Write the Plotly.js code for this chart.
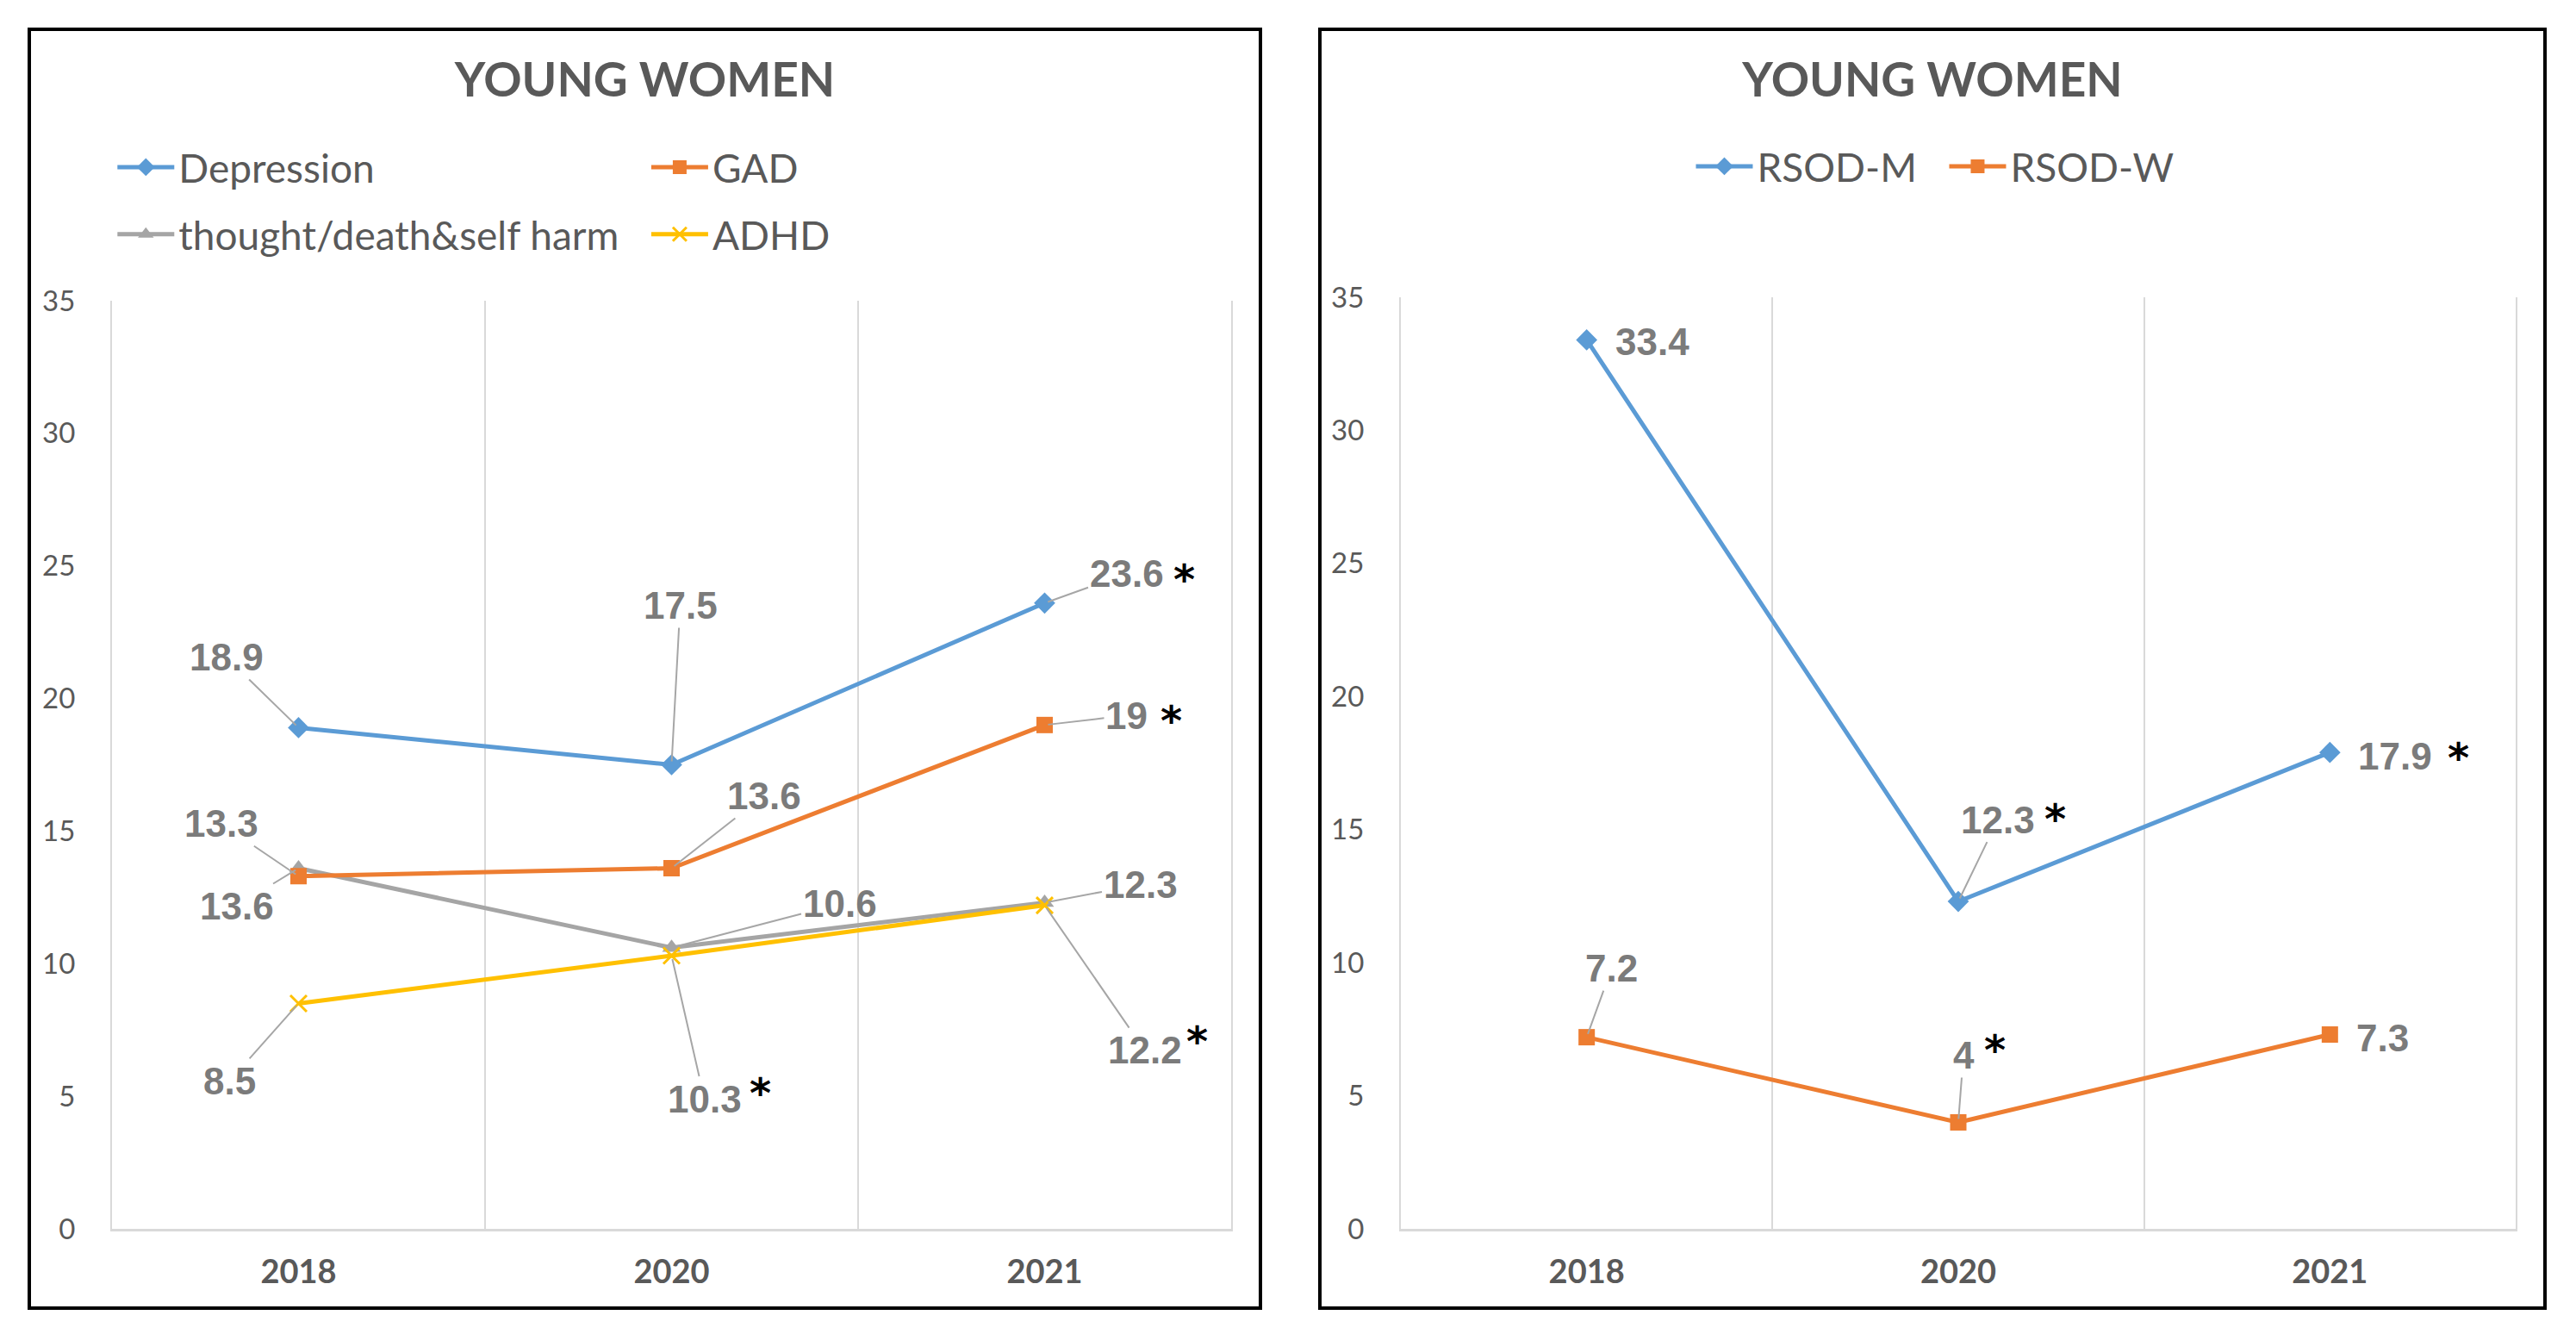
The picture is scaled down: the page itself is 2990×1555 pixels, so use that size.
<!DOCTYPE html>
<html>
<head>
<meta charset="utf-8">
<script src="https://cdn.plot.ly/plotly-3.0.1.min.js"></script>
<style>
  html, body { margin: 0; padding: 0; background: #ffffff; }
  body { width: 2990px; height: 1555px; position: relative; overflow: hidden; }
  .panel { position: absolute; box-sizing: border-box; border: 4px solid #000; background: #fff; }
  #p1 { left: 32px; top: 32px; width: 1433px; height: 1488px; }
  #p2 { left: 1530px; top: 32px; width: 1426px; height: 1488px; }
</style>
</head>
<body>
<div class="panel" id="p1"><div id="chart1"></div></div>
<div class="panel" id="p2"><div id="chart2"></div></div>
<script>
// ---------- data ----------
const years = ['2018', '2020', '2021'];
const chartTitle = 'YOUNG WOMEN';

const depression = [18.9, 17.5, 23.6];
const gad        = [13.3, 13.6, 19];
const thought    = [13.6, 10.6, 12.3];
const adhd       = [8.5, 10.3, 12.2];

const rsodM = [33.4, 12.3, 17.9];
const rsodW = [7.2, 4, 7.3];

// significance markers (*)
const sigDepression = [false, false, true];
const sigGad        = [false, false, true];
const sigThought    = [false, false, false];
const sigAdhd       = [false, true, true];
const sigRsodM      = [false, true, true];
const sigRsodW      = [false, true, false];

const yTicks = [0, 5, 10, 15, 20, 25, 30, 35];

// ---------- styles ----------
const FONT = 'Lato, "Open Sans", "DejaVu Sans", sans-serif';
const LFONT = '"Liberation Sans", Arial, sans-serif';
const SFONT = '"DejaVu Sans", sans-serif';
const BLUE = '#5B9BD5', ORANGE = '#ED7D31', GRAY = '#A5A5A5', YELLOW = '#FFC000';
const TXT = '#595959', LBL = '#7b7b7b', GRID = '#d9d9d9';

// label placement (pixel offsets of label centre from its point; arrow = leader line)
const place = {
  depression: [[-84, -82, true], [10, -185, true], [95, -34, true]],
  gad:        [[-90, -61, true], [107, -84, true], [95, -11, true]],
  thought:    [[-72, 44, true], [195, -51, true], [111, -21, true]],
  adhd:       [[-80, 90, true], [38, 166, true], [116, 168, true]],
  rsodM:      [[76, 2, false], [46, -95, true], [76, 4, false]],
  rsodW:      [[29, -80, true], [6, -78, true], [61, 4, false]]
};
const starPlace = {
  depression: [null, null, [162, -36]],
  gad:        [null, null, [147, -13]],
  thought:    [null, null, null],
  adhd:       [null, [103, 151], [177, 149]],
  rsodM:      [null, [112, -104], [149, -2]],
  rsodW:      [null, [42, -92], null]
};
const STAR_DROP = 8;

function labels(vals, sig, key) {
  const out = [];
  vals.forEach((v, i) => {
    const p = place[key][i];
    const base = {
      x: i, y: v, xref: 'x', yref: 'y',          // x = category index of years[i]
      text: String(v),
      font: { family: LFONT, size: 44, color: LBL, weight: 'bold' }
    };
    if (p[2]) {
      Object.assign(base, { showarrow: true, ax: p[0], ay: p[1], arrowhead: 0,
        arrowwidth: 2, arrowcolor: '#a6a6a6', standoff: 4 });
    } else {
      Object.assign(base, { showarrow: false, xshift: p[0], yshift: -p[1] });
    }
    out.push(base);
    const s = starPlace[key][i];
    if (sig[i] && s) {
      out.push({ x: i, y: v, xref: 'x', yref: 'y', text: '*', showarrow: false,
        xshift: s[0], yshift: -s[1] - STAR_DROP,
        font: { family: SFONT, size: 48, color: '#000000', weight: 'bold' } });
    }
  });
  return out;
}

function line(name, vals, color, symbol, msize, legend) {
  const t = {
    type: 'scatter', mode: 'lines+markers', name: name, x: years, y: vals,
    line: { color: color, width: 5 },
    marker: { symbol: symbol, size: msize, color: color,
      line: { color: color, width: symbol === 'x-thin' ? 3 : 0 } },
    cliponaxis: false, legendgroup: name, hoverinfo: 'skip'
  };
  if (legend) t.legend = legend;
  return t;
}

function baseLayout(w, h, m) {
  return {
    width: w, height: h,
    margin: m,
    paper_bgcolor: '#ffffff', plot_bgcolor: '#ffffff',
    font: { family: FONT, color: TXT },
    title: { text: chartTitle, x: 0.5, xref: 'container', xanchor: 'center',
      y: 1 - 57 / h, yref: 'container', yanchor: 'middle',
      font: { family: FONT, size: 55, color: TXT, weight: 'bold' } },
    xaxis: { type: 'category', range: [-0.5, 2.5], tickson: 'boundaries',
      showgrid: true, gridcolor: GRID, gridwidth: 2,
      showline: true, linecolor: GRID, linewidth: 3, ticks: '',
      zeroline: false, fixedrange: true,
      tickfont: { family: FONT, size: 38, color: TXT, weight: 'bold' },
      ticklabelstandoff: 14 },
    yaxis: { range: [0, 35], tickvals: yTicks, showgrid: false, zeroline: false,
      showline: true, linecolor: GRID, linewidth: 2, mirror: true,
      ticks: '', fixedrange: true,
      tickfont: { family: FONT, size: 33, color: TXT },
      ticklabelstandoff: 34 },
    showlegend: true
  };
}

// ---------- chart 1 ----------
const W1 = 1425, H1 = 1480;
const l1 = baseLayout(W1, H1, { l: 94, r: 32, t: 313, b: 90 });
const legFont = { family: FONT, size: 46, color: TXT };
l1.legend = { x: 0.001, xanchor: 'left', y: 1.1077, yanchor: 'middle', orientation: 'v',
  itemwidth: 66, tracegroupgap: 15, bgcolor: 'rgba(0,0,0,0)', font: legFont };
l1.legend2 = { x: 0.478, xanchor: 'left', y: 1.1077, yanchor: 'middle', orientation: 'v',
  itemwidth: 66, tracegroupgap: 15, bgcolor: 'rgba(0,0,0,0)', font: legFont };
l1.annotations = [].concat(
  labels(depression, sigDepression, 'depression'),
  labels(gad, sigGad, 'gad'),
  labels(thought, sigThought, 'thought'),
  labels(adhd, sigAdhd, 'adhd')
);
const traces1 = [
  line('Depression', depression, BLUE, 'diamond', 19, 'legend'),
  line('thought/death&self harm', thought, GRAY, 'triangle-up', 19, 'legend'),
  line('GAD', gad, ORANGE, 'square', 19, 'legend2'),
  line('ADHD', adhd, YELLOW, 'x-thin', 19, 'legend2')
];
Plotly.newPlot('chart1', traces1, l1, { staticPlot: true, displayModeBar: false });

// ---------- chart 2 ----------
const W2 = 1418, H2 = 1480;
const l2 = baseLayout(W2, H2, { l: 92, r: 32, t: 309, b: 90 });
l2.legend = { x: 0.488, xanchor: 'center', y: 1.1406, yanchor: 'middle', orientation: 'h',
  itemwidth: 66, entrywidth: 213, bgcolor: 'rgba(0,0,0,0)', font: legFont };
l2.annotations = [].concat(
  labels(rsodM, sigRsodM, 'rsodM'),
  labels(rsodW, sigRsodW, 'rsodW')
);
const traces2 = [
  line('RSOD-M', rsodM, BLUE, 'diamond', 19),
  line('RSOD-W', rsodW, ORANGE, 'square', 19)
];
Plotly.newPlot('chart2', traces2, l2, { staticPlot: true, displayModeBar: false });
</script>
</body>
</html>
